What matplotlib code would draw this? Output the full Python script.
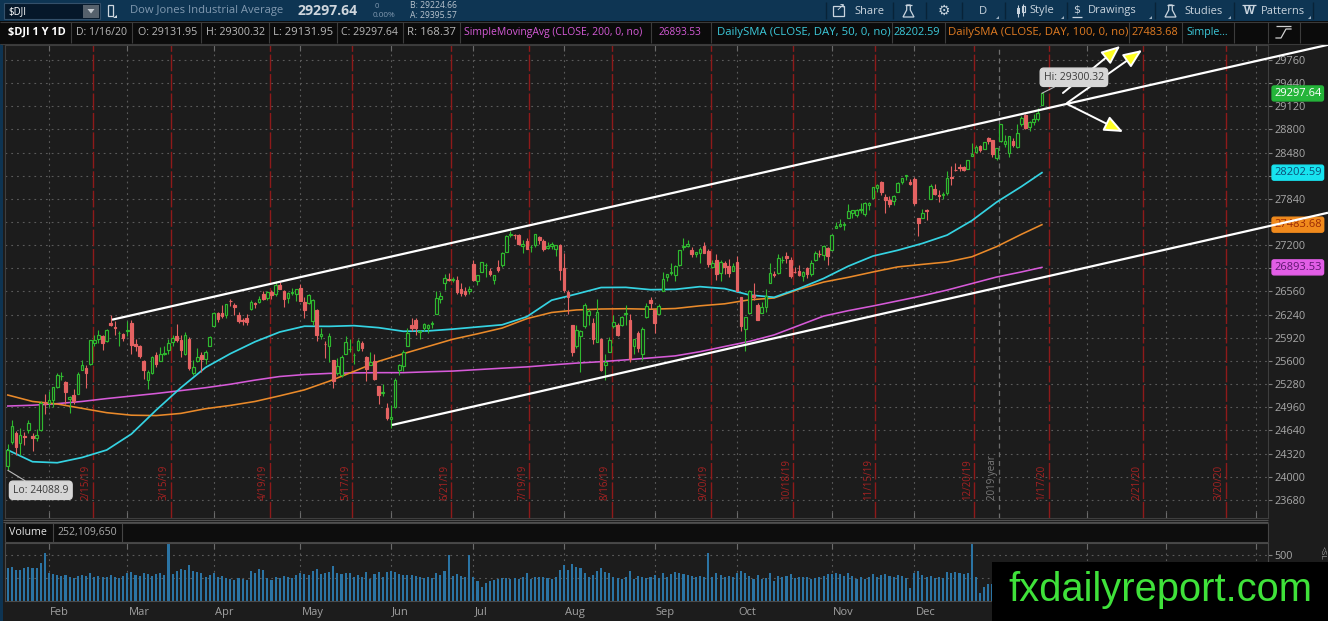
import numpy as np
import matplotlib
matplotlib.use('Agg')
import matplotlib.pyplot as plt
from matplotlib.patches import Rectangle, Polygon

plt.rcParams['font.family'] = ['Open Sans', 'DejaVu Sans']
plt.rcParams['axes.unicode_minus'] = False

# ------------------------------------------------------------------ data
# $DJI daily bars, 2019-01-17 .. 2020-01-16 (trading-day index 0..251)
opens = [
    24148, 24480, 24600, 24460, 24560, 24640, 24560, 24530, 24650, 25030,
    25025, 25060, 25240, 25390, 25310, 25070, 25130, 25150, 25470, 25500, 25560, 25850, 25900, 25950, 25880, 26130, 26070, 25980, 25970,
    26020, 26120, 25830, 25800, 25600, 25330, 25440, 25680, 25600, 25690, 25750, 25860, 25940, 25890, 25690, 25900, 25440, 25600, 25680, 25630, 25810,
    26080, 26260, 26260, 26230, 26430, 26370, 26240, 26170, 26200, 26320, 26400, 26420, 26520, 26470, 26550, 26520, 26650, 26560, 26470, 26540, 26520,
    26610, 26420, 26400, 26150, 26310, 25950, 25830, 25810, 25610, 25430, 25400, 25700, 25760, 25680, 25750, 25850, 25650, 25550, 25600, 25250, 25160, 24950,
    24800, 24960, 25480, 25530, 25800, 26100, 26170, 26000, 26050, 26050, 26110, 26250, 26460, 26680, 26730, 26720, 26720, 26600, 26570, 26570,
    26940, 26700, 26830, 26920, 26850, 26720, 26900, 26920, 27110, 27340, 27340, 27340, 27190, 27260, 27170, 27200, 27310, 27260, 27160, 27190, 27150, 27200,
    26880, 26550, 26100, 25800, 25950, 26080, 26240, 26130, 25860, 25900, 25550, 25730, 26080, 26100, 26090, 26250, 26160, 25800, 25980, 25690, 26210, 26440,
    26300, 26250, 26560, 26760, 26820, 26790, 26920, 27180, 27190, 27130, 27080, 27090, 27190, 27120, 26900, 27000, 26810, 26960, 26910, 26850,
    26970, 26490, 26040, 26260, 26510, 26370, 26260, 26350, 26680, 26790, 26820, 26990, 27050, 27000, 26830, 26850, 26770, 26880, 26800, 27000, 27080, 27060, 27160,
    27140, 27440, 27470, 27480, 27570, 27640, 27620, 27690, 27630, 27750, 27850, 27990, 28070, 27870, 27830, 27810, 27940, 28070, 28150, 28080,
    28110, 27570, 27580, 27680, 27840, 27970, 27900, 27890, 27920, 28140, 28240, 28280, 28280, 28250, 28430, 28490, 28570, 28530, 28680, 28650, 28410,
    28640, 28600, 28470, 28640, 28560, 28880, 29000, 28830, 28900, 28940, 29131.95,
]
highs = [
    24452, 24778, 24630, 24675, 24620, 24790, 24600, 24660, 25040, 25150,
    25180, 25240, 25440, 25450, 25320, 25110, 25210, 25450, 25620, 25550, 25890, 25960, 26030, 25960, 26040, 26240, 26150, 26020, 25980,
    26150, 26160, 25900, 25820, 25610, 25480, 25670, 25730, 25790, 25800, 25910, 25960, 26110, 25960, 26000, 25930, 25620, 25780, 25730, 25750, 25950,
    26270, 26270, 26370, 26390, 26450, 26400, 26270, 26200, 26250, 26440, 26420, 26500, 26570, 26570, 26580, 26700, 26690, 26580, 26550, 26610, 26600,
    26660, 26490, 26530, 26460, 26320, 26050, 25870, 25990, 25620, 25640, 25680, 25940, 25900, 25710, 25900, 25880, 25670, 25720, 25700, 25260, 25280, 25020,
    24990, 25370, 25560, 25750, 26050, 26190, 26190, 26030, 26130, 26110, 26150, 26560, 26550, 26800, 26810, 26760, 26770, 26680, 26620, 26630,
    26990, 26790, 26970, 26960, 26890, 26790, 27000, 27110, 27340, 27400, 27360, 27350, 27270, 27300, 27200, 27350, 27330, 27290, 27240, 27250, 27200, 27210,
    27090, 26580, 26100, 26100, 26030, 26400, 26320, 26200, 26450, 25920, 25690, 25930, 26230, 26130, 26220, 26380, 26250, 25900, 26010, 26070, 26400, 26480,
    26310, 26390, 26830, 26800, 26950, 26920, 27140, 27300, 27270, 27170, 27110, 27170, 27240, 27150, 26990, 27080, 27000, 26980, 27010, 26960,
    27050, 26490, 26210, 26580, 26680, 26400, 26420, 26590, 26950, 26850, 27080, 27050, 27100, 27030, 26900, 26920, 26840, 26900, 27000, 27120, 27130, 27200, 27180,
    27350, 27520, 27560, 27520, 27770, 27690, 27700, 27790, 27800, 27800, 28010, 28050, 28090, 27910, 27880, 27890, 28080, 28130, 28170, 28120,
    28140, 27580, 27700, 27700, 28050, 28040, 27960, 27930, 28220, 28290, 28340, 28320, 28300, 28380, 28610, 28580, 28580, 28630, 28700, 28650, 28550,
    28870, 28720, 28710, 28680, 28870, 28980, 29010, 28910, 29010, 29100, 29300.32,
]
lows = [
    24088.9, 24450, 24295, 24300, 24438, 24600, 24360, 24490, 24630, 24870,
    24960, 24970, 25220, 25330, 25000, 24880, 25010, 25150, 25470, 25220, 25540, 25800, 25850, 25750, 25860, 26080, 25960, 25800, 25880,
    25950, 25700, 25740, 25640, 25350, 25210, 25420, 25520, 25600, 25680, 25700, 25800, 25860, 25650, 25680, 25480, 25400, 25580, 25450, 25560, 25800,
    26080, 26140, 26200, 26200, 26360, 26240, 26120, 26090, 26100, 26300, 26330, 26400, 26440, 26440, 26450, 26500, 26590, 26350, 26400, 26510, 26430,
    26430, 26200, 26390, 26100, 25880, 25910, 25640, 25580, 25220, 25400, 25380, 25690, 25720, 25560, 25740, 25740, 25320, 25540, 25340, 25000, 25120, 24790,
    24680, 24950, 25400, 25460, 25800, 26010, 25960, 25910, 26010, 25980, 26060, 26250, 26400, 26580, 26700, 26690, 26520, 26500, 26500, 26530,
    26700, 26650, 26830, 26760, 26780, 26660, 26830, 26900, 27100, 27320, 27290, 27200, 27090, 27150, 27100, 27180, 27220, 27120, 27150, 27150, 27050, 26720,
    26550, 26250, 25670, 25780, 25450, 26050, 26090, 25840, 25860, 25460, 25340, 25720, 26050, 25950, 26080, 26100, 25580, 25700, 25730, 25610, 26200, 26320,
    25980, 26250, 26560, 26700, 26790, 26700, 26910, 27130, 27170, 27040, 27030, 26950, 27090, 26900, 26880, 26720, 26700, 26800, 26760, 26850,
    26560, 26020, 25740, 26250, 26440, 26160, 26260, 26280, 26680, 26760, 26800, 26960, 26960, 26740, 26820, 26780, 26700, 26740, 26770, 26980, 27030, 26990, 26920,
    27130, 27440, 27450, 27410, 27570, 27580, 27590, 27650, 27600, 27680, 27850, 27940, 27900, 27650, 27730, 27750, 27940, 28040, 28100, 28030,
    27760, 27330, 27570, 27550, 27840, 27900, 27800, 27840, 27890, 28030, 28220, 28230, 28220, 28250, 28430, 28480, 28490, 28530, 28600, 28420, 28380,
    28630, 28560, 28420, 28560, 28540, 28850, 28800, 28780, 28860, 28910, 29131.95,
]
closes = [
    24370, 24706, 24404, 24575, 24554, 24737, 24528, 24580, 25014, 24999,
    25064, 25239, 25411, 25390, 25169, 25106, 25053, 25425, 25543, 25439, 25883, 25891, 25954, 25850, 26031, 26092, 26057, 25986, 25916,
    26026, 25819, 25807, 25673, 25473, 25450, 25650, 25555, 25702, 25710, 25849, 25914, 25887, 25746, 25962, 25502, 25516, 25658, 25626, 25718, 25929,
    26258, 26180, 26218, 26385, 26425, 26341, 26151, 26157, 26143, 26412, 26385, 26453, 26450, 26559, 26512, 26656, 26597, 26462, 26543, 26554, 26593,
    26430, 26308, 26505, 26438, 25965, 25968, 25829, 25943, 25325, 25532, 25648, 25863, 25764, 25680, 25877, 25776, 25490, 25586, 25348, 25127, 25170, 24815,
    24820, 25332, 25540, 25720, 25984, 26062, 26049, 26004, 26107, 26090, 26112, 26466, 26504, 26753, 26720, 26728, 26549, 26537, 26527, 26600,
    26718, 26787, 26966, 26922, 26806, 26784, 26860, 27089, 27332, 27360, 27336, 27220, 27223, 27154, 27172, 27350, 27270, 27141, 27192, 27222, 27199, 26864,
    26583, 26485, 25718, 26030, 26008, 26379, 26287, 25897, 26280, 25480, 25579, 25886, 26136, 25962, 26202, 26253, 25629, 25899, 25778, 26036, 26362, 26403,
    26118, 26355, 26728, 26797, 26836, 26910, 27137, 27182, 27220, 27076, 27111, 27147, 27095, 26935, 26950, 26808, 26971, 26892, 26820, 26917,
    26573, 26079, 26202, 26573, 26478, 26165, 26347, 26497, 26817, 26787, 27025, 27002, 27026, 26770, 26828, 26788, 26834, 26806, 26959, 27091, 27072, 27186, 27046,
    27347, 27462, 27493, 27492, 27675, 27681, 27691, 27691, 27784, 27782, 28005, 28036, 27934, 27821, 27767, 27876, 28066, 28122, 28164, 28051,
    27783, 27503, 27650, 27678, 28015, 27910, 27882, 27912, 28132, 28135, 28236, 28268, 28240, 28377, 28455, 28551, 28516, 28621, 28645, 28462, 28538,
    28869, 28634, 28703, 28584, 28745, 28957, 28824, 28908, 28940, 29030, 29297.64,
]
volumes = [  # millions of shares
    355, 373, 337, 337, 355, 373, 355, 355, 410, 518,
    300, 290, 280, 270, 280, 260, 250, 270, 280, 270, 300, 260, 270, 260, 260, 280, 260, 250, 270,
    300, 310, 280, 270, 300, 290, 270, 290, 300, 280, 620, 290, 330, 350, 340, 390, 330, 320, 300, 260, 280,
    300, 260, 270, 250, 240, 230, 250, 240, 230, 330, 300, 350, 340, 250, 230, 260, 250, 270, 260, 250, 280,
    300, 290, 280, 330, 350, 290, 300, 320, 380, 300, 290, 300, 300, 260, 280, 260, 320, 240, 290, 310, 260, 320,
    330, 310, 290, 280, 280, 280, 270, 260, 250, 260, 250, 300, 280, 330, 500, 270, 290, 270, 260, 500,
    260, 220, 150, 200, 220, 230, 240, 250, 250, 240, 250, 240, 260, 300, 240, 260, 260, 260, 250, 240, 260, 340,
    390, 340, 400, 370, 360, 300, 260, 280, 330, 360, 320, 300, 260, 250, 240, 260, 330, 240, 270, 260, 250, 260,
    280, 250, 300, 260, 290, 310, 300, 290, 280, 270, 260, 270, 260, 520, 260, 300, 280, 260, 270, 260,
    300, 330, 300, 270, 240, 280, 240, 250, 300, 220, 270, 260, 270, 290, 250, 260, 260, 260, 240, 250, 260, 270, 290,
    290, 300, 290, 270, 300, 270, 240, 260, 240, 260, 290, 260, 280, 290, 270, 260, 280, 270, 250, 140,
    300, 330, 280, 260, 270, 250, 260, 250, 320, 300, 310, 300, 290, 300, 620, 260, 90, 150, 180, 190, 160,
    250, 260, 270, 240, 290, 270, 260, 260, 270, 280, 252,
]
# moving averages every 6th bar
sma_idx = [0, 6, 12, 18, 24, 30, 36, 42, 48, 54, 60, 66, 72, 78, 84, 90, 96, 102, 108, 114,
           120, 126, 132, 138, 144, 150, 156, 162, 168, 174, 180, 186, 192, 198, 204, 210,
           216, 222, 228, 234, 240, 246, 251]
sma50 = [24369, 24207, 24193, 24265, 24369, 24590, 24920, 25230, 25510, 25700, 25865, 26000,
         26080, 26078, 26088, 26060, 26010, 26015, 26040, 26070, 26100, 26212, 26440, 26525,
         26615, 26617, 26585, 26590, 26627, 26600, 26512, 26480, 26600, 26740, 26910, 27050,
         27130, 27225, 27340, 27540, 27795, 28010, 28202.59]
sma100 = [25129, 25040, 25005, 24945, 24885, 24850, 24845, 24875, 24940, 24985, 25040, 25118,
          25200, 25320, 25455, 25595, 25700, 25800, 25900, 25975, 26055, 26185, 26270, 26305,
          26318, 26322, 26315, 26325, 26362, 26390, 26445, 26470, 26590, 26690, 26756, 26830,
          26900, 26935, 26968, 27040, 27180, 27350, 27483.68]
sma200 = [24977, 24988, 25010, 25040, 25080, 25115, 25150, 25190, 25230, 25278, 25335, 25385,
          25412, 25428, 25435, 25438, 25438, 25450, 25460, 25480, 25500, 25518, 25545, 25570,
          25590, 25615, 25642, 25670, 25728, 25800, 25870, 25960, 26090, 26220, 26295, 26360,
          26430, 26500, 26580, 26670, 26760, 26830, 26893.53]

month_labels = ['Feb', 'Mar', 'Apr', 'May', 'Jun', 'Jul', 'Aug', 'Sep', 'Oct', 'Nov', 'Dec']
month_start_idx = [10, 29, 50, 71, 93, 113, 135, 157, 177, 200, 220]
future_month_idx = [262, 281, 303]
year_idx = 241
expiry_labels = ['2/15/19', '3/15/19', '4/19/19', '5/17/19', '6/21/19', '7/19/19', '8/16/19',
                 '9/20/19', '10/18/19', '11/15/19', '12/20/19', '1/17/20', '2/21/20', '3/20/20']
expiry_idx = [20, 39, 63, 83, 107, 126, 146, 170, 190, 210, 234, 252, 275, 295]
price_ticks = list(range(23680, 29761, 320))

# drawings (bar index, price)
upper_channel = ([25.3, 251.0], [26170.0, 29076.0])
lower_channel = ([93.25, 251.0], [24715.0, 26752.0])
arrow_start = [(256.1, 29304), (257.1, 29166), (257.1, 29152)]
arrow_end = [(270.0, 29954), (275.3, 29898), (270.7, 28765)]

last_close = 29297.64
hi_value, lo_value = 29300.32, 24088.9

# ------------------------------------------------------------------ style
W, H, DPI = 1328, 621, 100
BG = '#1c1c1c'
UP = '#2fb92f'
DOWN = '#e46262'
CYAN = '#35d3e2'
ORANGE = '#ea8a2a'
MAGENTA = '#d65ad8'
VOLC = '#2b74a4'
GRID = '#5a5a5a'
AXTXT = '#a8a8a8'

n = min(len(opens), len(highs), len(lows), len(closes), len(volumes))
o = np.array(opens[:n], float)
h = np.array(highs[:n], float)
l = np.array(lows[:n], float)
c = np.array(closes[:n], float)
v = np.array(volumes[:n], float)
xi = np.arange(n)

fig = plt.figure(figsize=(W / DPI, H / DPI), dpi=DPI, facecolor=BG)


def frac(x0, y0, x1, y1):
    return [x0 / W, 1 - y1 / H, (x1 - x0) / W, (y1 - y0) / H]


XPX0, XSTEP = 7.8, 4.12


def px2idx(px):
    return (px - XPX0) / XSTEP


YPX0, YP0, YSTEP = 60.0, 29760.0, 13.823


def py2price(py):
    return YP0 - (py - YPX0) * YSTEP


XL = (px2idx(5), px2idx(1268))
month_grid = month_start_idx + future_month_idx
grid_ls = (0, (1.6, 3.6))

# value tags on the price axis (value, face, text colour)
tags = [(last_close, '#25b53a', '#ffffff'), (sma50[-1], '#17e3ef', '#0d4f78'),
        (sma100[-1], '#f08a1c', '#9a2a05'), (sma200[-1], '#e25ee6', '#5e1670')]

# ------------------------------------------------------------------ price panel
ax = fig.add_axes(frac(5, 45, 1268, 518))
ax.set_facecolor(BG)
ax.set_xlim(*XL)
ax.set_ylim(py2price(518), py2price(45))
ax.set_axisbelow(True)
ax.set_yticks(price_ticks)
# tick labels hidden underneath a value tag are left blank (as in the platform)
ax.set_yticklabels(['' if any(abs(p - t[0]) < 110 for t in tags[1:]) else str(p)
                    for p in price_ticks])
ax.yaxis.tick_right()
ax.set_xticks(month_grid)
ax.tick_params(axis='x', top=True, bottom=True, direction='in', length=4, color='#6a6a6a',
               labelbottom=False)
ax.tick_params(axis='y', direction='out', length=3, color='#808080', labelcolor=AXTXT,
               labelsize=7.8, pad=1.5, left=False)
ax.grid(True, color=GRID, lw=0.8, linestyle=grid_ls)
for sp in ax.spines.values():
    sp.set_color('#3e3e3e')
    sp.set_linewidth(0.8)

label_y = py2price(500)
for e, lab in zip(expiry_idx, expiry_labels):
    ax.axvline(e + 0.6, color='#8e1a1a', lw=1.0, ls=(0, (12, 2)), zorder=1)
    ax.text(e + 0.6 - 1.6, label_y, lab, rotation=90, ha='center', va='bottom',
            color='#a82222', fontsize=7, zorder=1.5)
ax.axvline(year_idx - 0.4, color='#6e6e6e', lw=0.9, ls=(0, (4, 3)), zorder=1)
ax.text(year_idx - 0.4 - 1.6, label_y, '2019 year', rotation=90, ha='center', va='bottom',
        color='#7c7c7c', fontsize=7, zorder=1.5)

# moving averages
ax.plot(sma_idx, sma200, color=MAGENTA, lw=1.15, zorder=2.4)
ax.plot(sma_idx, sma100, color=ORANGE, lw=1.15, zorder=2.4)
ax.plot(sma_idx, sma50, color=CYAN, lw=1.25, zorder=2.4)

# candles
up = c >= o
wick_colors = np.where(up, UP, DOWN)
ax.vlines(xi, l, h, colors=wick_colors, lw=0.8, zorder=2.6)
body = np.maximum(np.abs(c - o), 8)
bottom = np.minimum(o, c)
ax.bar(xi[up], body[up], bottom=bottom[up], width=0.64, facecolor=BG, edgecolor=UP,
       linewidth=0.85, zorder=3)
ax.bar(xi[~up], body[~up], bottom=bottom[~up], width=0.64, facecolor=DOWN, edgecolor=DOWN,
       linewidth=0.85, zorder=3)

# channel lines (extend to the figure edge)
x_edge = px2idx(W)
for xa, ya in (upper_channel, lower_channel):
    slope = (ya[1] - ya[0]) / (xa[1] - xa[0])
    ax.plot([xa[0], x_edge], [ya[0], ya[0] + slope * (x_edge - xa[0])], color='white',
            lw=1.6, zorder=6, clip_on=False, solid_capstyle='butt')

for s, e in zip(arrow_start, arrow_end):
    ax.annotate('', xy=e, xytext=s, annotation_clip=False, zorder=7,
                arrowprops=dict(arrowstyle='-|>,head_length=0.95,head_width=0.4',
                                fc='#ffff22', ec='white', lw=1.4, shrinkA=0, shrinkB=0,
                                mutation_scale=12))

# Hi / Lo bubbles
bub = dict(boxstyle='round,pad=0.35', fc='#d6d6d6', ec='#d6d6d6')
ax.annotate(f'Hi: {hi_value:.2f}', xy=(n - 1, hi_value), xytext=(32, 16),
            textcoords='offset pixels', ha='center', va='center', fontsize=7.5,
            color='#3c3c3c', bbox=bub, zorder=8, annotation_clip=False,
            arrowprops=dict(arrowstyle='-', color='#bcbcbc', lw=0.8, shrinkA=0, shrinkB=0))
ax.annotate(f'Lo: {lo_value:.1f}', xy=(0, lo_value), xytext=(33, -20),
            textcoords='offset pixels', ha='center', va='center', fontsize=7.5,
            color='#3c3c3c', bbox=bub, zorder=8, annotation_clip=False,
            arrowprops=dict(arrowstyle='-', color='#bcbcbc', lw=0.8, shrinkA=0, shrinkB=0))

for val, fc, tc in tags:
    ax.text(1.0048, val, f'{val:.2f}', transform=ax.get_yaxis_transform(), ha='left',
            va='center', fontsize=8, color=tc, zorder=4, clip_on=False,
            bbox=dict(boxstyle='round,pad=0.18', fc=fc, ec=fc))

# ------------------------------------------------------------------ volume panel
axv = fig.add_axes(frac(5, 543, 1268, 601))
axv.set_facecolor(BG)
axv.set_xlim(*XL)
axv.set_ylim(0, 630)
axv.set_axisbelow(True)
axv.bar(xi, v, width=0.5, color=VOLC, linewidth=0, zorder=2)
axv.set_yticks([250, 500])
axv.set_yticklabels(['', '500'])
axv.yaxis.tick_right()
axv.set_xticks(month_grid)
axv.tick_params(axis='x', top=True, bottom=True, direction='in', length=4, color='#6a6a6a',
                labelbottom=False)
axv.tick_params(axis='y', direction='out', length=3, color='#808080', labelcolor=AXTXT,
                labelsize=7.8, pad=1.5, left=False)
axv.grid(True, color=GRID, lw=0.8, linestyle=grid_ls)
for sp in axv.spines.values():
    sp.set_color('#4a4a4a')
    sp.set_linewidth(0.8)
for m, lab in zip(month_start_idx, month_labels):
    axv.text(m + 0.3, -0.19, lab, transform=axv.get_xaxis_transform(), ha='left',
             va='center', color='#a0a0a0', fontsize=8)

# ------------------------------------------------------------------ overlay (frame, header)
ov = fig.add_axes([0, 0, 1, 1], zorder=20)
ov.set_xlim(0, W)
ov.set_ylim(H, 0)
ov.axis('off')

fits = []


def orect(x0, y0, x1, y1, fc, ec='none', lw=0.8, z=21):
    ov.add_patch(Rectangle((x0, y0), x1 - x0, y1 - y0, facecolor=fc, edgecolor=ec, lw=lw,
                           zorder=z))


def oline(xs, ys, color, lw=0.8, z=22):
    ov.plot(xs, ys, color=color, lw=lw, zorder=z, solid_capstyle='butt')


def otext(x, y, s, color, size=8, weight='normal', ha='left', width=None, family=None,
          z=25, **kw):
    kw2 = dict(color=color, fontsize=size, fontweight=weight, ha=ha, va='center', zorder=z)
    if family:
        kw2['family'] = family
    kw2.update(kw)
    t = ov.text(x, y, s, **kw2)
    if width:
        fits.append((t, width))
    return t


def flask(cx, cy, color):
    ov.add_patch(Polygon([(cx - 1.8, cy - 6), (cx + 1.8, cy - 6), (cx + 1.8, cy - 1),
                          (cx + 5.5, cy + 6), (cx - 5.5, cy + 6), (cx - 1.8, cy - 1)],
                         closed=True, fill=False, ec=color, lw=0.9, zorder=23))
    oline([cx - 3.2, cx + 3.2], [cy - 6, cy - 6], color, lw=0.9, z=23)


# left frame stripe
orect(0, 0, 3, H, '#0e3452', z=21)

# row 1 (toolbar)
NAVY = '#0e3553'
ICON = '#c9d4de'
orect(0, 0, W, 21, NAVY)
orect(4, 3, 100, 19, '#06182a', ec='#34506a')
orect(83, 4.5, 99, 17.5, '#56616c')
ov.add_patch(Polygon([(87.5, 9), (94.5, 9), (91, 13.5)], closed=True, fc='#c4cad0', ec='none',
                     zorder=23))
otext(8, 11.5, '$DJI', '#ffffff', size=8, width=18)
orect(107.5, 4.5, 112.5, 15.5, 'none', ec='#cfd8e0', lw=0.9, z=22)
ov.add_patch(Polygon([(113, 18), (116.5, 18), (116.5, 14.5)], closed=True, fc='#cfd8e0',
                     ec='none', zorder=23))
otext(130, 11, 'Dow Jones Industrial Average', '#8199b0', size=8.5, width=153)
otext(298, 11, '29297.64', '#cfd6dd', size=11, weight='bold', width=60)
otext(375, 6.5, '0', '#8199b0', size=5.5)
otext(373, 15.5, '0.00%', '#8199b0', size=5.5, width=23)
otext(410, 6, 'B: 29224.66', '#b9c4ce', size=5.5, width=47)
otext(410, 15, 'A: 29395.57', '#b9c4ce', size=5.5, width=47)

# toolbar buttons on the right
orect(833, 6, 844, 16, 'none', ec=ICON, lw=0.9, z=22)
otext(840, 9, '\u2197', ICON, size=8, family='DejaVu Sans', ha='center')
otext(854, 11, 'Share', ICON, size=8)
flask(908.5, 11, ICON)
otext(944, 11, '\u2699', ICON, size=10, family='DejaVu Sans', ha='center')
otext(983, 11, 'D', ICON, size=8, ha='center')
oline([1018, 1018], [5, 17], ICON, lw=0.8)
orect(1016.5, 8, 1019.5, 14, ICON, z=23)
oline([1023, 1023], [4, 16], ICON, lw=0.8)
orect(1021.5, 6, 1024.5, 12, 'none', ec=ICON, lw=0.8, z=23)
otext(1029, 11, 'Style', ICON, size=8)
otext(1077, 10, '$', ICON, size=8, ha='center', family='DejaVu Sans')
oline([1072, 1082], [17, 17], ICON, lw=0.9)
otext(1088, 11, 'Drawings', ICON, size=8)
flask(1170.5, 11, ICON)
otext(1184, 11, 'Studies', ICON, size=8)
oline([1242, 1256], [4.5, 4.5], ICON, lw=0.9)
otext(1249, 12, 'W', ICON, size=8, ha='center', weight='bold')
otext(1261, 11, 'Patterns', ICON, size=8)
for tx in (996, 1061, 1149, 1228, 1308):
    ov.add_patch(Polygon([(tx, 19), (tx + 3, 19), (tx + 3, 16)], closed=True, fc='#9fb0c0',
                         ec='none', zorder=23))
for sx in (826, 893, 926, 962, 1005, 1067, 1155, 1234, 1313):
    oline([sx, sx], [2, 19], '#082338', lw=1.0)

# row 2 (study line)
orect(0, 21, W, 44, '#0b0b0b')
oline([0, W], [21.5, 21.5], '#3a3a3a')
oline([0, W], [43.5, 43.5], '#3a3a3a')
TXT2 = '#b8b8b8'
segments = [
    (8, '$DJI 1 Y 1D', '#ffffff', 'bold', 58),
    (76, 'D: 1/16/20', TXT2, 'normal', 51),
    (138, 'O: 29131.95', TXT2, 'normal', 59),
    (205.5, 'H: 29300.32', TXT2, 'normal', 59.5),
    (273, 'L: 29131.95', TXT2, 'normal', 60),
    (341, 'C: 29297.64', TXT2, 'normal', 57),
    (407, 'R: 168.37', TXT2, 'normal', 48.5),
    (464, 'SimpleMovingAvg (CLOSE, 200, 0, no)', '#d45ad6', 'normal', 178),
    (659, '26893.53', '#d45ad6', 'normal', 43),
    (717, 'DailySMA (CLOSE, DAY, 50, 0, no)', '#3cc9da', 'normal', 172),
    (894, '28202.59', '#3cc9da', 'normal', 47),
    (948, 'DailySMA (CLOSE, DAY, 100, 0, no)', '#e07b22', 'normal', 178),
    (1132, '27483.68', '#e07b22', 'normal', 47),
    (1186, 'Simple...', '#3cc9da', 'normal', 42),
]
for sx, s, col, wt, wd in segments:
    otext(sx, 32.5, s, col, size=7.5, weight=wt, width=wd)
for sx in (71, 132, 201, 269, 337, 402.5, 460, 651, 711, 891.5, 944.5, 1129, 1182, 1234,
           1268, 1300):
    oline([sx, sx], [22, 43], '#3c3c3c')
ov.plot([1276, 1281, 1286, 1291], [38, 38, 29, 29], color='#d0d0d0', lw=0.9, zorder=23)
oline([1276, 1291], [26, 26], '#d0d0d0', lw=0.9, z=23)

# separators between panels and volume header
oline([3, 1268], [519.5, 519.5], '#505050')
oline([3, 1268], [521.5, 521.5], '#505050')
orect(5, 522.5, 1268, 542, '#0d0d0d', ec='#454545')
oline([53, 53], [523, 542], '#454545')
oline([122, 122], [523, 542], '#454545')
otext(9, 532.5, 'Volume', '#e6e6e6', size=8, width=38)
otext(58, 532.5, '252,109,650', '#a8a8a8', size=7.5, width=59)
otext(1322, 553, '<SL', '#9a9a9a', size=6, rotation=-90, ha='center')

# watermark
orect(992, 562, W, H, '#000000', z=30)
otext(1160, 590, 'fxdailyreport.com', '#3fe23a', size=26, ha='center',
      family='Liberation Sans', width=304, z=31)

fig.canvas.draw()
renderer = fig.canvas.get_renderer()
for t, wd in fits:
    bb = t.get_window_extent(renderer)
    if bb.width > 0:
        t.set_fontsize(t.get_fontsize() * wd / bb.width)

fig.savefig('out.png', dpi=DPI, facecolor=fig.get_facecolor())
